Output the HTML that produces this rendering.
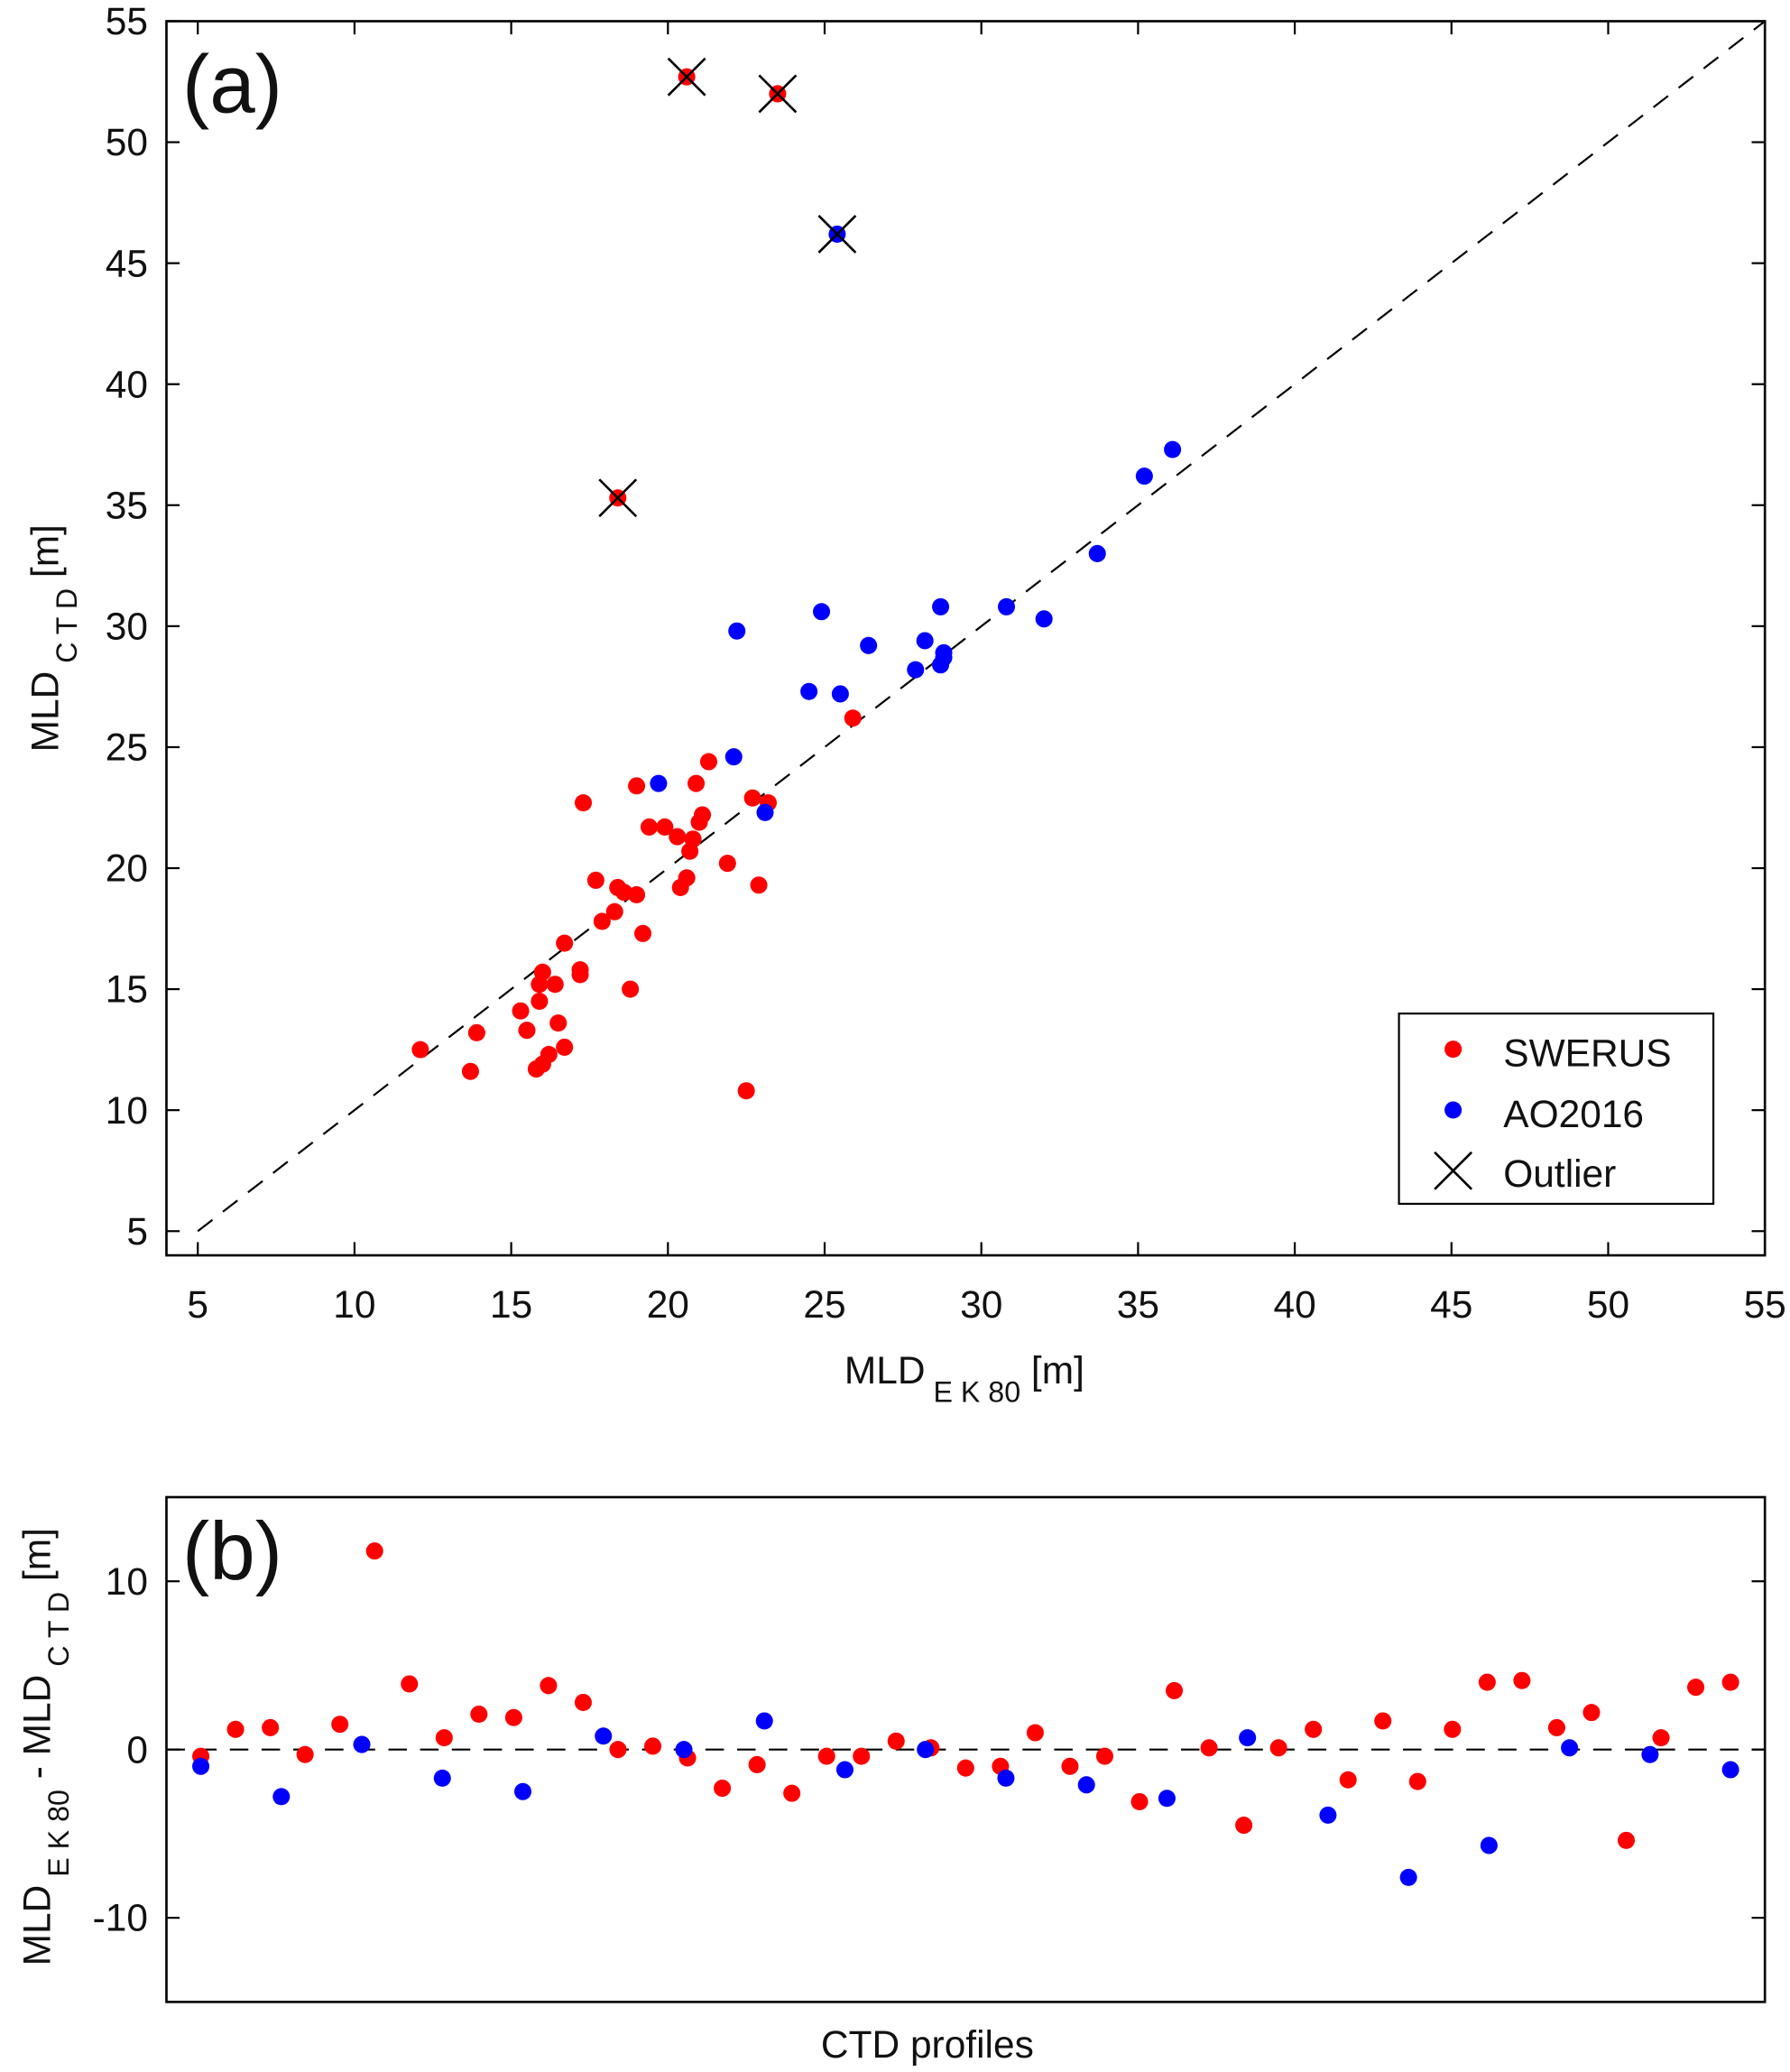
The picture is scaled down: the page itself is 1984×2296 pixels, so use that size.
<!DOCTYPE html>
<html><head><meta charset="utf-8"><style>html,body{margin:0;padding:0;background:#fff}svg{display:block}text{font-family:"Liberation Sans",sans-serif;fill:#111}</style></head>
<body>
<svg id="chart" width="1984" height="2296" viewBox="0 0 1355 1568" xmlns="http://www.w3.org/2000/svg"></svg>
<script>
const redX=[12.1,13.7,13.9,15.3,15.5,15.8,15.9,15.9,16.0,16.0,16.2,16.4,16.5,16.7,16.7,17.2,17.2,17.3,17.7,17.9,18.3,18.4,18.6,18.8,19.0,19.0,19.2,19.4,19.9,20.3,20.4,20.6,20.7,20.8,20.9,21.0,21.1,21.3,21.9,22.5,22.7,22.9,23.2,25.9,18.4,20.6,23.5];
const redY=[12.5,11.6,13.2,14.1,13.3,11.7,14.5,15.2,11.9,15.7,12.3,15.2,13.6,12.6,16.9,15.6,15.8,22.7,19.5,17.8,18.2,19.2,19.0,15.0,23.4,18.9,17.3,21.7,21.7,21.3,19.2,19.6,20.7,21.2,23.5,21.9,22.2,24.4,20.2,10.8,22.9,19.3,22.7,26.2,35.3,52.7,52.0];
const blueX=[19.7,22.1,22.2,23.1,24.5,24.9,25.5,25.4,26.4,27.9,28.2,28.7,28.7,28.8,28.8,30.8,32.0,33.7,35.2,36.1];
const blueY=[23.5,24.6,29.8,22.3,27.3,30.6,27.2,46.2,29.2,28.2,29.4,28.4,30.8,28.7,28.9,30.8,30.3,33.0,36.2,37.3];
const outX=[18.4,20.6,23.5,25.4];
const outY=[35.3,52.7,52.0,46.2];
const ticksA=[5,10,15,20,25,30,35,40,45,50,55];
const diffRed=[-0.4,1.2,1.3,-0.3,1.5,11.8,3.9,0.7,2.1,1.9,3.8,2.8,0.0,0.2,-0.5,-2.3,-0.9,-2.6,-0.4,-0.4,0.5,0.1,-1.1,-1.0,1.0,-1.0,-0.4,-3.1,3.5,0.1,-4.5,0.1,1.2,-1.8,1.7,-1.9,1.2,4.0,4.1,1.3,2.2,-5.4,0.7,3.7,4.0];
const diffBlue=[-1.0,-2.8,0.3,-1.7,-2.5,0.8,0.0,1.7,-1.2,0.0,-1.7,-2.1,-2.9,0.7,-3.9,-7.6,-5.7,0.1,-0.3,-1.2];
const ticksB=[-10,0,10];

const svg=document.getElementById('chart');
const NS='http://www.w3.org/2000/svg';
function mk(tag,attrs,parent){const e=document.createElementNS(NS,tag);for(const k in attrs)e.setAttribute(k,attrs[k]);(parent||svg).appendChild(e);return e;}
const aL=126,aR=1336,aT=16,aB=950;
const ax=v=>aL+(v-4)/(55-4)*(aR-aL);
const ay=v=>aB-(v-4)/(55-4)*(aB-aT);
let g=mk('g',{});


let diag=mk('line',{x1:ax(5),y1:ay(5),x2:ax(55),y2:ay(55),stroke:'#000','stroke-width':1.5,'stroke-dasharray':'14,10'},g);


ticksA.forEach(t=>{
 mk('line',{x1:ax(t),y1:aB,x2:ax(t),y2:aB-10,stroke:'#000','stroke-width':1.5},g);
 mk('line',{x1:ax(t),y1:aT,x2:ax(t),y2:aT+10,stroke:'#000','stroke-width':1.5},g);
 mk('line',{x1:aL,y1:ay(t),x2:aL+10,y2:ay(t),stroke:'#000','stroke-width':1.5},g);
 mk('line',{x1:aR,y1:ay(t),x2:aR-10,y2:ay(t),stroke:'#000','stroke-width':1.5},g);
 let tx=mk('text',{x:ax(t),y:aB+47,'font-size':29,'text-anchor':'middle'},g);tx.textContent=t;
 
 
 let ty=mk('text',{x:aL-14,y:ay(t)+10,'font-size':29,'text-anchor':'end'},g);ty.textContent=t;
 
 
});
redX.forEach((x,i)=>{let c=mk('circle',{cx:ax(x),cy:ay(redY[i]),r:6.5,fill:'#ff0000'},g);
 
 });
blueX.forEach((x,i)=>{let c=mk('circle',{cx:ax(x),cy:ay(blueY[i]),r:6.5,fill:'#0000ff'},g);
 
 });
outX.forEach((x,i)=>{const cx=ax(x),cy=ay(outY[i]),s=14;
 let p=mk('path',{d:`M${cx-s},${cy-s}L${cx+s},${cy+s}M${cx-s},${cy+s}L${cx+s},${cy-s}`,stroke:'#000','stroke-width':1.8,fill:'none'},g);
 
 });
mk('rect',{x:aL,y:aT,width:aR-aL,height:aB-aT,fill:'none',stroke:'#000','stroke-width':1.8},g);
let ta=mk('text',{x:138,y:85,'font-size':62},g);ta.textContent='(a)';


let lg=mk('g',{},g);


mk('rect',{x:1059,y:767,width:238,height:144,fill:'#fff',stroke:'#000','stroke-width':1.5},lg);
mk('circle',{cx:1100,cy:794,r:6.5,fill:'#ff0000'},lg);
mk('circle',{cx:1100,cy:840,r:6.5,fill:'#0000ff'},lg);
mk('path',{d:'M1086,872L1114,900M1086,900L1114,872',stroke:'#000','stroke-width':1.8},lg);
[['SWERUS',807],['AO2016',853],['Outlier',898]].forEach(([t,y])=>{let e=mk('text',{x:1138,y:y,'font-size':29},lg);e.textContent=t;
 
 });
let xt=mk('text',{x:730,y:1047,'font-size':29,'text-anchor':'middle'},g);
xt.innerHTML='MLD<tspan font-size="22" dy="14"> E K 80</tspan><tspan dy="-14"> [m]</tspan>';


let yt=mk('text',{x:0,y:0,'font-size':29,'text-anchor':'middle',transform:'translate(44,483) rotate(-90)'},g);
yt.innerHTML='MLD<tspan font-size="22" dy="14"> C T D</tspan><tspan dy="-14"> [m]</tspan>';


const bL=126,bR=1336,bT=1133,bB=1515;
const by=v=>bB-(v+15)/30*(bB-bT);
const x0=152,x1=1310;
const bxR=i=>x0+i*(x1-x0)/(diffRed.length-1);
const bxB=i=>x0+i*(x1-x0)/(diffBlue.length-1);
let gb=mk('g',{});


let zl=mk('line',{x1:bL,y1:by(0),x2:bR,y2:by(0),stroke:'#000','stroke-width':1.5,'stroke-dasharray':'14,10'},gb);


ticksB.forEach(t=>{
 mk('line',{x1:bL,y1:by(t),x2:bL+10,y2:by(t),stroke:'#000','stroke-width':1.5},gb);
 mk('line',{x1:bR,y1:by(t),x2:bR-10,y2:by(t),stroke:'#000','stroke-width':1.5},gb);
 let ty=mk('text',{x:bL-14,y:by(t)+10,'font-size':29,'text-anchor':'end'},gb);ty.textContent=t;
 
 
});
diffRed.forEach((v,i)=>{let c=mk('circle',{cx:bxR(i),cy:by(v),r:6.5,fill:'#ff0000'},gb);
 
 });
diffBlue.forEach((v,i)=>{let c=mk('circle',{cx:bxB(i),cy:by(v),r:6.5,fill:'#0000ff'},gb);
 
 });
mk('rect',{x:bL,y:bT,width:bR-bL,height:bB-bT,fill:'none',stroke:'#000','stroke-width':1.8},gb);
let tb=mk('text',{x:138,y:1195,'font-size':62},gb);tb.textContent='(b)';


let bx=mk('text',{x:702,y:1557,'font-size':29,'text-anchor':'middle'},gb);bx.textContent='CTD profiles';


let byt=mk('text',{x:0,y:0,'font-size':29,'text-anchor':'middle',transform:'translate(38,1322) rotate(-90)'},gb);
byt.innerHTML='MLD<tspan font-size="22" dy="14"> E K 80</tspan><tspan dy="-14"> - MLD</tspan><tspan font-size="22" dy="14"> C T D</tspan><tspan dy="-14"> [m]</tspan>';


</script>
</body></html>
